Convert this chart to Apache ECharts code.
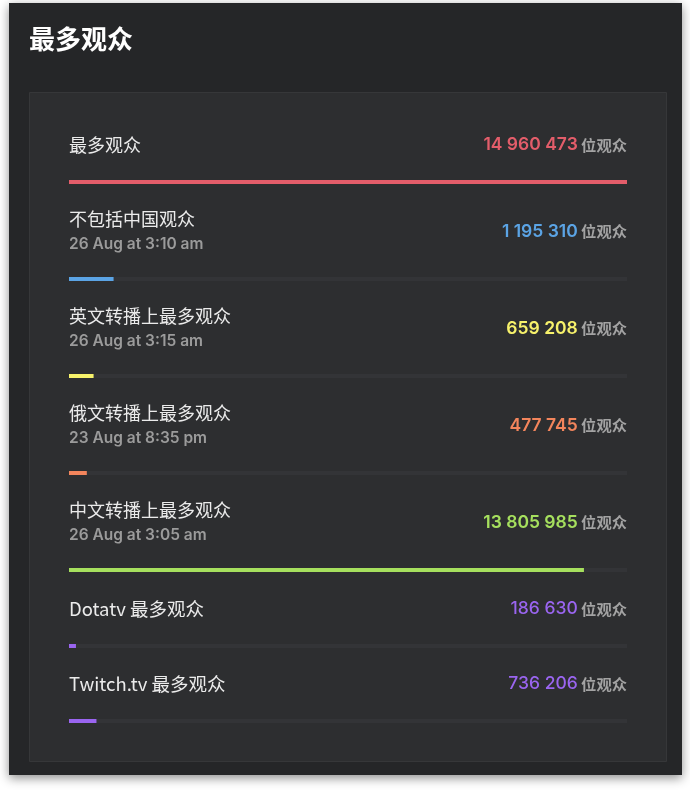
<!DOCTYPE html>
<html lang="zh">
<head>
<meta charset="UTF-8">
<title>最多观众</title>
<script src="https://cdn.jsdelivr.net/npm/echarts@6/dist/echarts.min.js"></script>
<style>
  html, body { margin: 0; padding: 0; background: #fff; }
  #container { width: 690px; height: 790px; }
</style>
</head>
<body>
<div id="container"></div>
<script type="text/javascript">
// 数据
var labels = ['最多观众', '不包括中国观众', '英文转播上最多观众', '俄文转播上最多观众', '中文转播上最多观众', 'Dotatv 最多观众', 'Twitch.tv 最多观众'];
var dates = ['', '26 Aug at 3:10 am', '26 Aug at 3:15 am', '23 Aug at 8:35 pm', '26 Aug at 3:05 am', '', ''];
var values = [14960473, 1195310, 659208, 477745, 13805985, 186630, 736206];
var unit = '位观众';
var colors = ['#e35d6a', '#5ba4e5', '#f7f26b', '#f3855c', '#a6e05e', '#9a65f0', '#9a65f0'];

// 布局
var barTop = [180, 277, 374, 471, 568, 644, 719];
var barLeft = 69, barWidth = 558;
var maxValue = Math.max.apply(null, values);

function fmt(n) {
  return String(n).replace(/\B(?=(\d{3})+(?!\d))/g, ' ');
}

var dom = document.getElementById('container');
var myChart = echarts.init(dom);

var grids = [], xAxes = [], yAxes = [], series = [];
var graphics = [
  { type: 'rect', shape: { x: 9, y: 3, width: 673, height: 772 },
    style: { fill: '#252628', shadowBlur: 10, shadowColor: 'rgba(0,0,0,0.45)', shadowOffsetY: 3 }, z: 0 },
  { type: 'rect', shape: { x: 29.5, y: 92.5, width: 637, height: 669 },
    style: { fill: '#2d2e30', stroke: '#363739', lineWidth: 1 }, z: 1 },
  { type: 'text', x: 29, y: 39, z: 2,
    style: { text: '最多观众', fill: '#ffffff', font: 'bold 26px "Noto Sans CJK SC"', textVerticalAlign: 'middle' } }
];

for (var i = 0; i < values.length; i++) {
  grids.push({ left: barLeft, top: barTop[i], width: barWidth, height: 4 });
  xAxes.push({ type: 'value', gridIndex: i, min: 0, max: maxValue, show: false });
  yAxes.push({ type: 'category', gridIndex: i, data: [labels[i]], show: false });
  series.push({
    type: 'bar', xAxisIndex: i, yAxisIndex: i, barWidth: 4,
    data: [values[i]],
    itemStyle: { color: colors[i] },
    showBackground: true,
    backgroundStyle: { color: '#333437' },
    animation: false
  });

  var hasDate = dates[i] !== '';
  var latin = i >= 5;
  var labelY = hasDate ? barTop[i] - 58 : barTop[i] - 35;
  graphics.push({
    type: 'text', x: barLeft, y: labelY, z: 3,
    style: {
      text: labels[i], fill: '#ebebeb', textVerticalAlign: 'middle',
      font: (latin ? '18.5px' : '18px') + ' "Noto Sans CJK SC"'
    }
  });
  if (hasDate) {
    graphics.push({
      type: 'text', x: barLeft, y: barTop[i] - 33, z: 3,
      style: { text: dates[i], fill: '#9b9b9b', font: '600 15.5px Inter', textVerticalAlign: 'middle' }
    });
  }
  var valueY = hasDate ? barTop[i] - 45.5 : barTop[i] - 35;
  graphics.push({
    type: 'text', x: barLeft + barWidth, y: valueY, z: 3,
    style: {
      text: '{v|' + fmt(values[i]) + '} {u|' + unit + '}',
      textAlign: 'right', textVerticalAlign: 'middle',
      rich: {
        v: { fill: colors[i], font: (latin ? '500' : '600') + ' 17.5px Inter' },
        u: { fill: '#a3a3a3', font: 'bold 15.3px "Noto Sans CJK SC"' }
      }
    }
  });
}

var option = {
  backgroundColor: '#ffffff',
  animation: false,
  grid: grids,
  xAxis: xAxes,
  yAxis: yAxes,
  series: series,
  graphic: graphics
};

if (option && typeof option === 'object') {
  myChart.setOption(option, true);
}
</script>
</body>
</html>
